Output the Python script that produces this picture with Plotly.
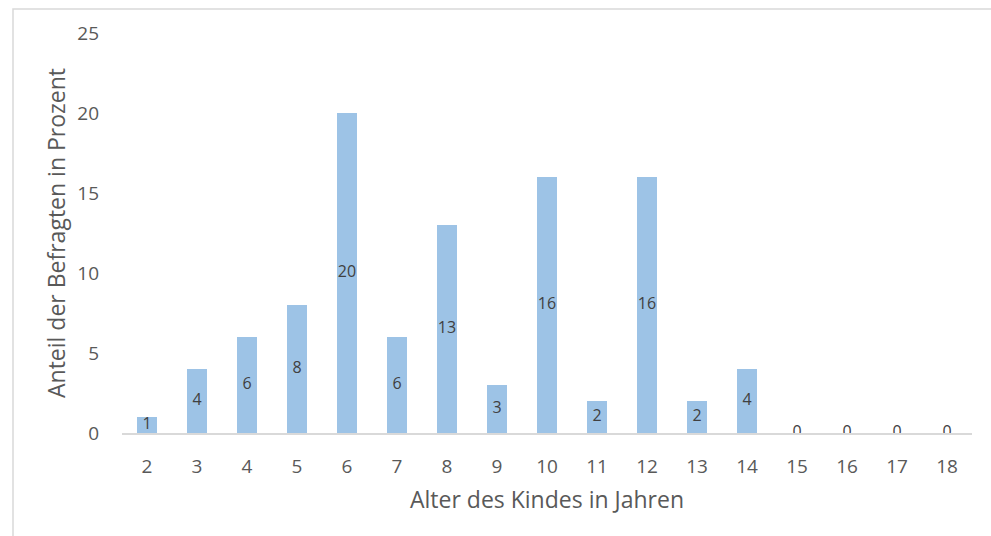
import plotly.graph_objects as go

ages = ["2", "3", "4", "5", "6", "7", "8", "9", "10", "11", "12", "13", "14", "15", "16", "17", "18"]
percent = [1, 4, 6, 8, 20, 6, 13, 3, 16, 2, 16, 2, 4, 0, 0, 0, 0]
y_ticks = [0, 5, 10, 15, 20, 25]
x_title = "Alter des Kindes in Jahren"
y_title = "Anteil der Befragten in Prozent"

FONT = "Open Sans"

fig = go.Figure()
fig.add_trace(go.Bar(
    x=ages, y=percent,
    marker=dict(color="#9DC3E6", line=dict(width=0)),
    hoverinfo="x+y",
))
fig.add_trace(go.Scatter(
    x=ages, y=[v / 2 for v in percent],
    mode="text",
    text=[str(v) for v in percent],
    textposition="middle center",
    textfont=dict(family=FONT, size=16, color="#404040"),
    hoverinfo="skip",
))

fig.update_layout(
    width=991, height=536,
    margin=dict(l=122, r=19, t=33, b=103),
    plot_bgcolor="white", paper_bgcolor="white",
    showlegend=False,
    bargap=0.6,
    font=dict(family=FONT, color="#595959"),
    xaxis=dict(
        type="category", automargin=False,
        range=[-0.5, len(ages) - 0.5],
        showgrid=False, zeroline=False,
        showline=True, linecolor="#D9D9D9", linewidth=1.5,
        ticks="", tickfont=dict(size=19, color="#595959"),
        ticklabelstandoff=15,
        title=dict(text=x_title, font=dict(size=23, color="#595959"), standoff=14),
    ),
    yaxis=dict(
        range=[0, 25], tickvals=y_ticks, automargin=False,
        showgrid=False, zeroline=False, showline=False,
        ticks="", tickfont=dict(size=19, color="#595959"),
        ticklabelstandoff=22,
        title=dict(text=y_title, font=dict(size=23, color="#595959"), standoff=5),
    ),
    shapes=[dict(
        type="rect", xref="paper", yref="paper",
        x0=(13 - 122) / 850, x1=1.2, y0=-0.5, y1=1 + (33 - 9) / 400,
        line=dict(color="#D9D9D9", width=1.5), fillcolor="rgba(0,0,0,0)",
        layer="below",
    )],
)

fig.write_html("out.html", config={"displayModeBar": False},
               post_script="document.body.style.margin='0';")
